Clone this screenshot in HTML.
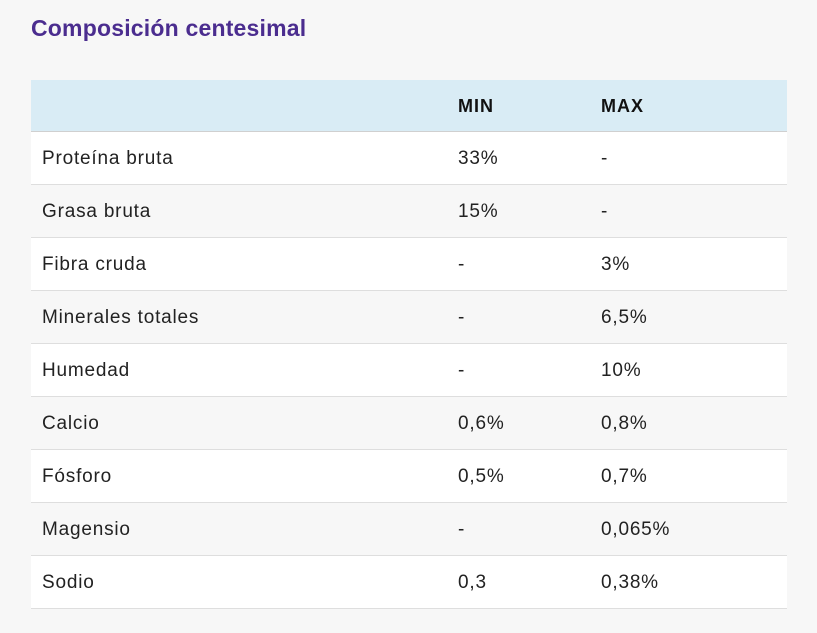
<!DOCTYPE html>
<html><head><style>
body{margin:0;width:817px;height:633px;background:#f7f7f7;font-family:"Liberation Sans",sans-serif;overflow:hidden;position:relative}
h1{position:absolute;left:31px;top:15px;margin:0;font-size:23px;font-weight:bold;color:#4b2d8f;letter-spacing:0.2px}
.t{position:absolute;left:31px;top:80px;width:756px}
.r{position:relative;height:52px;border-bottom:1px solid #dedede;font-size:19px;color:#222;letter-spacing:0.8px}
.r span{position:absolute;top:16px}
.a{left:11px}.b{left:427px}.c{left:570px}
.h{height:51px;background:#d9ecf5;border-bottom:1px solid #d0d0d0;font-weight:bold;font-size:18px;letter-spacing:1px;color:#111}
.w{background:#fff}.g{background:#f7f7f7}
</style></head><body>
<h1>Composición centesimal</h1>
<div class="t">
<div class="r h"><span class="b">MIN</span><span class="c">MAX</span></div>
<div class="r w"><span class="a">Proteína bruta</span><span class="b">33%</span><span class="c">-</span></div>
<div class="r g"><span class="a">Grasa bruta</span><span class="b">15%</span><span class="c">-</span></div>
<div class="r w"><span class="a">Fibra cruda</span><span class="b">-</span><span class="c">3%</span></div>
<div class="r g"><span class="a">Minerales totales</span><span class="b">-</span><span class="c">6,5%</span></div>
<div class="r w"><span class="a">Humedad</span><span class="b">-</span><span class="c">10%</span></div>
<div class="r g"><span class="a">Calcio</span><span class="b">0,6%</span><span class="c">0,8%</span></div>
<div class="r w"><span class="a">Fósforo</span><span class="b">0,5%</span><span class="c">0,7%</span></div>
<div class="r g"><span class="a">Magensio</span><span class="b">-</span><span class="c">0,065%</span></div>
<div class="r w"><span class="a">Sodio</span><span class="b">0,3</span><span class="c">0,38%</span></div>
</div>
</body></html>
